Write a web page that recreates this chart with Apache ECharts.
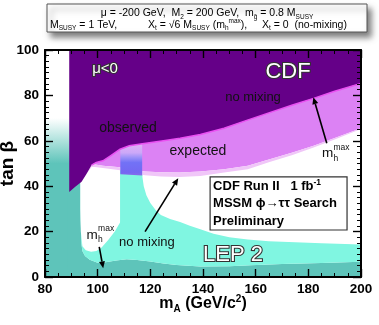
<!DOCTYPE html>
<html><head><meta charset="utf-8">
<script src="https://cdn.jsdelivr.net/npm/echarts@6/dist/echarts.min.js"></script>
<style>html,body{margin:0;padding:0;background:#fff}#c{width:379px;height:325px}</style>
</head><body><div id="c"></div>
<script>
// ---- data (mA in GeV/c^2, tan beta) ----
const xTicks = [80, 100, 120, 140, 160, 180, 200];
const yTicks = [0, 20, 40, 60, 80, 100];
// CDF observed exclusion lower boundary
const observedEdge = [[89.2,37.4],[91.5,39.8],[93.9,42],[95.8,45.5],[97.7,49.3],[99.5,50.5],[102,51.2],[105,53.5],[108.5,56.3],[112,57.8],[117,58.7],[125,60],[131.3,61.1],[139,62.8],[148,65.5],[156.6,69],[165,72.3],[174,75.8],[182,78.7],[190,81.8],[200,85.3]];
// expected band lower edges
const expectedMainLower = [[95.8,45.5],[97.7,49.3],[99,49.6],[102,49],[108.5,48.4],[113,47.4],[118,46.5],[124,46.2],[131,46],[139,46.5],[148,47.5],[157,49],[165,51.8],[174,54.8],[182,57.8],[190,61.2],[200,65.5]];
const expectedLightLower = [[95.8,45.5],[97.7,48.5],[99,48.5],[102,48],[108.5,47],[113,45.8],[118,44.8],[124,44.3],[131,44],[139,44.5],[148,46],[157,47.5],[165,50.5],[174,53.7],[182,57],[190,60.6],[200,65.2]];
// LEP 2 m_h^max exclusion upper edge (dark teal)
const lepMhmaxEdge = [[93.6,44],[93.6,25],[93.8,15],[94.2,11.5],[95.2,9.2],[97,7.6],[100,6.3],[103,6.5],[107,7.3],[111,7.8],[115,7.5],[120,6.8],[125,6],[130,5.3],[139,4.6],[150,4.7],[158,5.2],[170,5.7],[185,6.2],[200,6.7]];
// LEP 2 no-mixing exclusion upper edge (cyan)
const lepNoMixEdge = [[117,44],[117.5,40],[118.5,36],[120,32.6],[122,29.5],[124,27.3],[127.5,25.6],[131.3,24.2],[135,22.6],[139,21],[144,19],[150,17.5],[157,16.5],[165,15.8],[175,15.3],[185,14.9],[200,14.3]];
// unexcluded hole of the m_h^max scenario
const mhmaxHole = [[93.4,44],[93.4,30],[93.6,20],[94.2,13.5],[95.5,11.8],[97.5,11.1],[99.5,11.5],[101.5,13],[104,16.3],[106.5,20],[108.5,24],[108.5,52],[100,53],[96,47]];
// overlap of the LEP no-mixing strip with the expected band
const overlapStrip = [[108.6,45.3],[116.9,44.7],[116.9,59],[108.6,58]];
const leftStrip = [[80,0],[89.6,0],[89.6,100],[80,100]];

const FONT = '"Liberation Sans", Arial, Helvetica, sans-serif';
const C = {
  purple:'#650088', pink:'#dc82f4', pinkLight:'#f0c6f8', magenta:'#ea50f2',
  cyan:'#80f6e1', teal:'#5ec4ba'
};
const G = echarts.graphic;

function poly(pts, fill, z) {
  return {
    type:'custom', coordinateSystem:'cartesian2d', silent:true, z:z, clip:true,
    data:[pts[0]],
    renderItem:(p, api) => ({type:'polygon', shape:{points: pts.map(q => api.coord(q))}, style:{fill:fill}})
  };
}
function polyline(pts, color, width, z) {
  return {
    type:'custom', coordinateSystem:'cartesian2d', silent:true, z:z, clip:true,
    data:[pts[0]],
    renderItem:(p, api) => ({type:'polyline', shape:{points: pts.map(q => api.coord(q))}, style:{fill:null, stroke:color, lineWidth:width}})
  };
}
function rev(a){ return a.slice().reverse(); }

const tealMain = [[88.5,0],[200,0]].concat(rev(lepMhmaxEdge), [[88.5,44]]);
const cyanPoly = lepMhmaxEdge.concat(rev(lepNoMixEdge), [[117,60],[93.6,60]]);
const obsRight = observedEdge.filter(p => p[0] >= 95.8);
const pinkMainPoly = obsRight.concat(rev(expectedMainLower));
const pinkLightPoly = expectedMainLower.concat(rev(expectedLightLower));
const purplePoly = [[89.2,100],[200,100]].concat(rev(observedEdge));

const overlapGrad = new G.LinearGradient(0,0,0,1,[
  {offset:0,color:'#e2b2f6'},{offset:0.3,color:'#cca8f8'},{offset:0.45,color:'#9a90f8'},
  {offset:0.6,color:'#7272f6'},{offset:0.9,color:'#7468f2'},{offset:1,color:'#8a6aea'}
]);

function annotations(params, api) {
  const P = (x, y) => api.coord([x, y]);
  const ch = [];
  const txt = (pt, text, extra) => ch.push({type:'text', x:pt[0], y:pt[1], style:Object.assign({
    text:text, font:'14px ' + FONT, fill:'#111', align:'center', verticalAlign:'middle'}, extra || {})});
  const outline = {fill:'#fff', stroke:'#333', lineWidth:2.2, strokeFirst:true};
  const arrow = (a, b) => {
    const dx=b[0]-a[0], dy=b[1]-a[1], L=Math.hypot(dx,dy), ux=dx/L, uy=dy/L, hl=7, hw=3;
    const base=[b[0]-ux*hl, b[1]-uy*hl];
    ch.push({type:'line', shape:{x1:a[0],y1:a[1],x2:base[0],y2:base[1]}, style:{stroke:'#000', lineWidth:1.6}});
    ch.push({type:'polygon', shape:{points:[b,[base[0]-uy*hw,base[1]+ux*hw],[base[0]+uy*hw,base[1]-ux*hw]]}, style:{fill:'#000'}});
  };
  const mh = (pt) => {
    txt(pt, 'm', {align:'left', font:'13.5px ' + FONT});
    txt([pt[0]+11.5, pt[1]+4.5], 'h', {align:'left', font:'8.5px ' + FONT});
    txt([pt[0]+11.5, pt[1]-6.5], 'max', {align:'left', font:'8.5px ' + FONT});
  };
  txt(P(102.8, 91.6), 'μ<0', Object.assign({font:'15px ' + FONT}, outline));
  txt(P(172.3, 90.3), 'CDF', Object.assign({font:'22px ' + FONT}, outline));
  txt(P(151.4, 9.7), 'LEP 2', Object.assign({font:'22px ' + FONT}, outline));
  txt(P(111.5, 65.6), 'observed');
  txt(P(138.1, 55.5), 'expected');
  txt(P(159.0, 79.3), 'no mixing', {font:'13px ' + FONT});
  txt(P(118.7, 15.4), 'no mixing', {font:'13px ' + FONT});
  mh(P(185.2, 54.3));
  mh(P(95.8, 18.5));
  arrow(P(187.0, 58.9), P(181.9, 79.2));
  arrow(P(118.0, 20.0), P(130.6, 43.5));
  arrow(P(100.6, 13.3), P(102.1, 3.8));
  // info box
  const a = P(142.7, 44.1), b = P(194.7, 20.7);
  ch.push({type:'rect', shape:{x:a[0], y:a[1], width:b[0]-a[0], height:b[1]-a[1]}, style:{fill:'#fff', stroke:'#333', lineWidth:1.2}});
  const bf = 'bold 13px ' + FONT;
  ch.push({type:'text', x:a[0]+3, y:a[1]+8.5, style:{text:'{t|CDF Run II   1 fb}{s|-1}', align:'left', verticalAlign:'middle',
    rich:{t:{font:bf, fill:'#000', lineHeight:15, verticalAlign:'bottom'}, s:{font:'bold 8.5px ' + FONT, fill:'#000', lineHeight:10, verticalAlign:'top'}}}});
  txt([a[0]+3, a[1]+27], 'MSSM ϕ→ττ Search', {align:'left', font:bf, fill:'#000'});
  txt([a[0]+3, a[1]+45], 'Preliminary', {align:'left', font:bf, fill:'#000'});
  return {type:'group', children:ch};
}

const axisCommon = {
  type:'value', z:10, nameMoveOverlap:false,
  axisLine:{show:true, onZero:false, lineStyle:{color:'#000', width:2}},
  axisTick:{show:true, inside:true, length:8, lineStyle:{color:'#000', width:1.4}},
  minorTick:{show:true, length:4, lineStyle:{color:'#000', width:1}},
  splitLine:{show:false}, minorSplitLine:{show:false}
};
const labelStyle = {color:'#000', fontWeight:'bold', fontSize:13.5, fontFamily:FONT};

const option = {
  backgroundColor:'#fff',
  animation:false,
  grid:{left:45, right:18, top:50, bottom:48, containLabel:false, outerBoundsMode:'none'},
  xAxis:[
    Object.assign({}, axisCommon, {min:xTicks[0], max:xTicks[xTicks.length-1], interval:20, position:'bottom',
      minorTick:Object.assign({}, axisCommon.minorTick, {splitNumber:4}),
      axisLabel:Object.assign({margin:5}, labelStyle),
      name:'{b|m}{s|A}{b| (GeV/c}{p|2}{b|)}', nameLocation:'middle', nameGap:17,
      nameTextStyle:{rich:{
        b:{fontWeight:'bold', fontSize:16, fontFamily:FONT, color:'#000', lineHeight:20, verticalAlign:'middle'},
        s:{fontWeight:'bold', fontSize:10, fontFamily:FONT, color:'#000', lineHeight:10, verticalAlign:'bottom'},
        p:{fontWeight:'bold', fontSize:10, fontFamily:FONT, color:'#000', lineHeight:10, verticalAlign:'top'}}}}),
    Object.assign({}, axisCommon, {min:xTicks[0], max:xTicks[xTicks.length-1], interval:20, position:'top',
      minorTick:Object.assign({}, axisCommon.minorTick, {splitNumber:4}), axisLabel:{show:false}})
  ],
  yAxis:[
    Object.assign({}, axisCommon, {min:yTicks[0], max:yTicks[yTicks.length-1], interval:20, position:'left',
      minorTick:Object.assign({}, axisCommon.minorTick, {splitNumber:8}),
      axisLabel:Object.assign({margin:6}, labelStyle),
      name:'tan β', nameLocation:'middle', nameGap:28, nameRotate:90,
      nameTextStyle:{fontWeight:'bold', fontSize:19, fontFamily:FONT, color:'#000'}}),
    Object.assign({}, axisCommon, {min:yTicks[0], max:yTicks[yTicks.length-1], interval:20, position:'right',
      minorTick:Object.assign({}, axisCommon.minorTick, {splitNumber:8}), axisLabel:{show:false}})
  ],
  series:[
    poly(leftStrip, new G.LinearGradient(0,0,0,1,[{offset:0,color:'#ffffff'},{offset:0.3,color:'#ffffff'},{offset:0.5,color:C.teal},{offset:1,color:C.teal}]), 1),
    poly(tealMain, C.teal, 2),
    poly(cyanPoly, C.cyan, 3),
    poly(mhmaxHole, '#ffffff', 4),
    poly(pinkMainPoly, C.pink, 5),
    poly(pinkLightPoly, C.pinkLight, 6),
    poly(overlapStrip, overlapGrad, 7),
    poly(purplePoly, C.purple, 8),
    polyline(observedEdge.filter(p => p[0] >= 97), C.magenta, 1.5, 9),
    {type:'custom', coordinateSystem:'cartesian2d', data:[[140,50]], z:12, silent:true, clip:false, renderItem:annotations}
  ],
  graphic:[
    {type:'rect', z:20, shape:{x:47, y:4, width:320, height:28},
      style:{fill:'#fff', stroke:'#555', lineWidth:1, shadowBlur:6, shadowOffsetX:4, shadowOffsetY:5, shadowColor:'rgba(0,0,0,0.5)'}},
    {type:'text', z:21, x:207, y:13.5, style:{
      text:'{t|μ = -200 GeV,  M}{s|2}{t| = 200 GeV,  m}{s|g̃}{t| = 0.8 M}{s|SUSY}', align:'center', verticalAlign:'middle',
      rich:{t:{fontSize:10.5, fontFamily:FONT, fill:'#000', lineHeight:14, verticalAlign:'middle'},
            s:{fontSize:6.5, fontFamily:FONT, fill:'#000', lineHeight:7, verticalAlign:'bottom'}}}},
    {type:'text', z:21, x:50, y:25, style:{
      text:'{t|M}{s|SUSY}{t| = 1 TeV,}', align:'left', verticalAlign:'middle',
      rich:{t:{fontSize:10.5, fontFamily:FONT, fill:'#000', lineHeight:14, verticalAlign:'middle'},
            s:{fontSize:6.5, fontFamily:FONT, fill:'#000', lineHeight:7, verticalAlign:'bottom'}}}},
    {type:'text', z:21, x:148, y:25, style:{
      text:'{t|X}{s|t}{t| = √6 M}{s|SUSY}{t| (m}{s|h}{p|max}{t|),}', align:'left', verticalAlign:'middle',
      rich:{t:{fontSize:10.5, fontFamily:FONT, fill:'#000', lineHeight:14, verticalAlign:'middle'},
            s:{fontSize:6.5, fontFamily:FONT, fill:'#000', lineHeight:7, verticalAlign:'bottom'},
            p:{fontSize:6.5, fontFamily:FONT, fill:'#000', lineHeight:7, verticalAlign:'top'}}}},
    {type:'text', z:21, x:262, y:25, style:{
      text:'{t|X}{s|t}{t| = 0  (no-mixing)}', align:'left', verticalAlign:'middle',
      rich:{t:{fontSize:10.5, fontFamily:FONT, fill:'#000', lineHeight:14, verticalAlign:'middle'},
            s:{fontSize:6.5, fontFamily:FONT, fill:'#000', lineHeight:7, verticalAlign:'bottom'}}}}
  ]
};
echarts.init(document.getElementById('c'), null, {renderer:'canvas'}).setOption(option);
</script></body></html>
